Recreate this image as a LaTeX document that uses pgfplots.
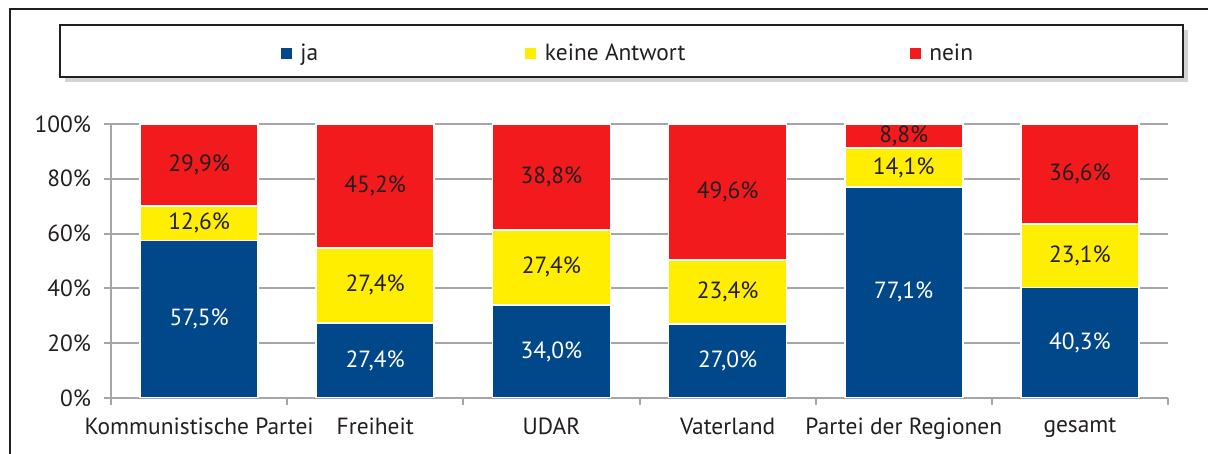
\documentclass[border=0pt]{standalone}
\usepackage{fontspec}
\setmainfont{PT Sans}
\usepackage{pgfplots}
\pgfplotsset{compat=1.18}
\usepackage{pgfplotstable}
\usetikzlibrary{shadows}
\definecolor{cblue}{RGB}{0,72,138}
\definecolor{cyellow}{RGB}{255,238,0}
\definecolor{cred}{RGB}{242,26,28}
\definecolor{txt}{RGB}{35,31,32}
\definecolor{gridc}{RGB}{166,166,166}

% nein for UDAR plotted at 38.6 so the bar ends at 100 (label 38.8)
\pgfplotstableread{
x ja ka nein neinlab
0 57.5 12.6 29.9 29.9
1 27.4 27.4 45.2 45.2
2 34.0 27.4 38.6 38.8
3 27.0 23.4 49.6 49.6
4 77.1 14.1 8.8 8.8
5 40.3 23.1 36.6 36.6
}\data

\begin{document}
\begin{tikzpicture}[x=0.5pt,y=0.5pt]
\useasboundingbox (0,0) rectangle (1208,454);
\draw[line width=0.75pt, color=txt] (10,0) -- (10,445) -- (1208,445);
\draw[fill=white, draw=txt, line width=1pt,
  drop shadow={shadow xshift=2.5pt, shadow yshift=-2.5pt, opacity=0.35}]
  (60,377) rectangle (1183,429);
\begin{axis}[
  at={(55.5pt,28pt)}, anchor=south west,
  scale only axis, width=528.5pt, height=137pt,
  ybar stacked, bar width=0.67,
  xmin=-0.5, xmax=5.5, ymin=0, ymax=100,
  axis x line*=bottom, axis y line*=left,
  axis line style={gridc, line width=1pt},
  tick style={gridc, line width=1pt},
  tick align=outside, major tick length=3.5pt,
  ytick={0,20,40,60,80,100},
  yticklabels={0\%,20\%,40\%,60\%,80\%,100\%},
  yticklabel style={xshift=-3pt},
  xtick={-0.5,0.5,1.5,2.5,3.5,4.5,5.5},
  x tick label as interval,
  xticklabels={Kommunistische Partei,Freiheit,UDAR,Vaterland,Partei der Regionen,gesamt},
  xticklabel style={yshift=-3pt},
  ymajorgrids, grid style={gridc, line width=1pt},
  tick label style={font=\fontsize{11.7}{13}\selectfont, color=txt},
  /pgf/number format/assume math mode=true,
  point meta=explicit,
  nodes near coords={\pgfmathprintnumber[fixed, fixed zerofill, precision=1, use comma]{\pgfplotspointmeta}\%},
  nodes near coords style={font=\fontsize{11.7}{13}\selectfont},
  legend columns=3,
  legend style={draw=none, fill=none, at={(rel axis cs:0.16,1.258)}, anchor=west,
    inner sep=0pt, font=\fontsize{11.7}{13}\selectfont, text=txt,
    /tikz/column 2/.append style={column sep=101.5pt},
    /tikz/column 4/.append style={column sep=110pt}},
  legend image code/.code={\fill[#1, draw=none] (0pt,-2.75pt) rectangle (5.5pt,2.75pt);
    \path (7.5pt,0pt);},
]
\addplot[fill=cblue, draw=white, line width=0.8pt,
  every node near coord/.append style={anchor=center, text=white}]
  table[x=x, y=ja, meta=ja] {\data};
\addlegendentry{ja}
\addplot[fill=cyellow, draw=white, line width=0.8pt,
  every node near coord/.append style={anchor=center, text=txt}]
  table[x=x, y=ka, meta=ka] {\data};
\addlegendentry{keine Antwort}
\addplot[fill=cred, draw=white, line width=0.8pt,
  every node near coord/.append style={anchor=center, text=txt}]
  table[x=x, y=nein, meta=neinlab] {\data};
\addlegendentry{nein}
\end{axis}
\end{tikzpicture}
\end{document}
